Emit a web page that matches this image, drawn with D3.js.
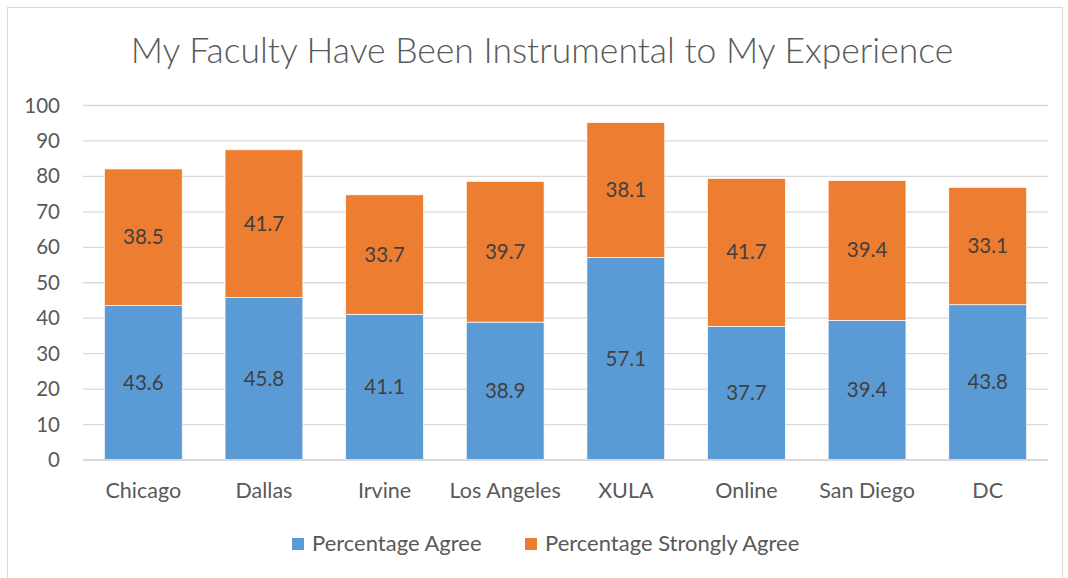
<!DOCTYPE html>
<html lang="en">
<head>
<meta charset="UTF-8">
<script src="https://d3js.org/d3.v7.min.js"></script>
<style>
  body { margin: 0; background: #fff; }
  svg text { font-family: Lato, "Open Sans", sans-serif; fill: #595959; }
</style>
</head>
<body>
<svg id="svg" width="1068" height="578"></svg>
<script>
var campuses = ["Chicago", "Dallas", "Irvine", "Los Angeles", "XULA", "Online", "San Diego", "DC"];
var agreeValues = [43.6, 45.8, 41.1, 38.9, 57.1, 37.7, 39.4, 43.8];
var stronglyValues = [38.5, 41.7, 33.7, 39.7, 38.1, 41.7, 39.4, 33.1];
var yTicks = [0, 10, 20, 30, 40, 50, 60, 70, 80, 90, 100];
var seriesNames = ["Percentage Agree", "Percentage Strongly Agree"];
var seriesColors = ["#5b9bd5", "#ed7d31"];

var svg = d3.select("#svg");

// chart frame
svg.append("rect")
  .attr("x", 7.5).attr("y", 7.5)
  .attr("width", 1055).attr("height", 580)
  .attr("fill", "#fff").attr("stroke", "#d9d9d9");

svg.append("text")
  .attr("x", 542).attr("y", 63)
  .attr("text-anchor", "middle")
  .attr("font-size", 35.5)
  .attr("font-weight", 300)
  .text("My Faculty Have Been Instrumental to My Experience");

var x = d3.scaleBand().domain(campuses).range([83, 1048]).paddingInner(0.355).paddingOuter(0.1775);
var y = d3.scaleLinear().domain([0, 100]).range([460, 105.5]);

// gridlines
svg.append("g")
  .selectAll("line")
  .data(yTicks.filter(d => d > 0))
  .enter().append("line")
  .attr("x1", 83).attr("x2", 1048)
  .attr("y1", d => y(d)).attr("y2", d => y(d))
  .attr("stroke", "#d9d9d9").attr("stroke-width", 1.3);

// y labels
svg.append("g")
  .selectAll("text")
  .data(yTicks)
  .enter().append("text")
  .attr("x", 60).attr("y", d => y(d) + 7)
  .attr("text-anchor", "end")
  .attr("font-size", 20.5)
  .text(d => d);

var rows = campuses.map((c, i) => ({ campus: c, agree: agreeValues[i], strongly: stronglyValues[i] }));
var stack = d3.stack().keys(["agree", "strongly"])(rows);

stack.forEach((layer, li) => {
  var g = svg.append("g");
  g.selectAll("rect")
    .data(layer)
    .enter().append("rect")
    .attr("x", d => x(d.data.campus))
    .attr("width", x.bandwidth())
    .attr("y", d => y(d[1]))
    .attr("height", d => y(d[0]) - y(d[1]))
    .attr("fill", seriesColors[li])
    .attr("stroke", "#fff").attr("stroke-width", 0.7);

  g.selectAll("text")
    .data(layer)
    .enter().append("text")
    .attr("x", d => x(d.data.campus) + x.bandwidth() / 2)
    .attr("y", d => y((d[0] + d[1]) / 2) + 7)
    .attr("text-anchor", "middle")
    .attr("font-size", 20.5)
    .style("fill", "#404040")
    .text(d => (li === 0 ? d.data.agree : d.data.strongly).toFixed(1));
});

// x axis line
svg.append("line")
  .attr("x1", 83).attr("x2", 1048)
  .attr("y1", y(0)).attr("y2", y(0))
  .attr("stroke", "#d9d9d9").attr("stroke-width", 2);

svg.append("g")
  .selectAll("text")
  .data(campuses)
  .enter().append("text")
  .attr("x", d => x(d) + x.bandwidth() / 2)
  .attr("y", 498)
  .attr("text-anchor", "middle")
  .attr("font-size", 21.5)
  .text(d => d);

// legend
var legendX = [292, 525];
var legend = svg.append("g");
seriesNames.forEach((name, i) => {
  legend.append("rect")
    .attr("x", legendX[i]).attr("y", 538)
    .attr("width", 12).attr("height", 12)
    .attr("fill", seriesColors[i]);
  legend.append("text")
    .attr("x", legendX[i] + 20).attr("y", 551)
    .attr("font-size", 22)
    .text(name);
});
</script>
</body>
</html>
